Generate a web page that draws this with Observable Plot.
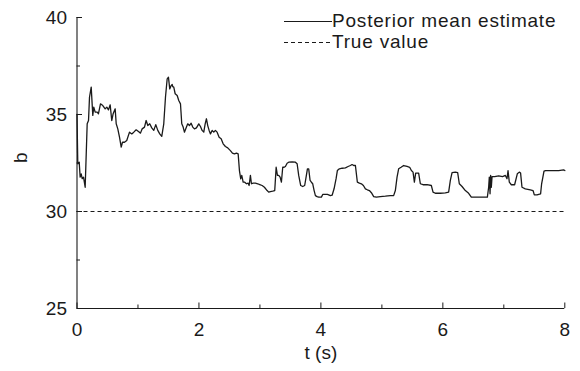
<!DOCTYPE html>
<html>
<head>
<meta charset="utf-8">
<script src="https://cdn.jsdelivr.net/npm/d3@7"></script>
<script src="https://cdn.jsdelivr.net/npm/@observablehq/plot@0.6"></script>
<style>
  html, body { margin: 0; padding: 0; background: #fff; }
  #wrap { position: relative; width: 580px; height: 371px; font-family: "Liberation Sans", Arial, sans-serif; color: #1a1a1a; }
  #legend { position: absolute; left: 284px; top: 10px; font-size: 19px; line-height: 21px; letter-spacing: 0.8px; }
  #legend .row { display: flex; align-items: center; white-space: nowrap; }
  #legend svg { display: block; margin-right: 0px; }
</style>
</head>
<body>
<div id="wrap">
  <div id="chart"></div>
  <div id="legend"></div>
</div>
<script>
// Time (s)
const t = [0.000,0.013,0.036,0.052,0.069,0.085,0.107,0.134,0.167,0.189,0.205,0.233,0.259,0.275,0.298,0.331,0.352,0.385,0.423,0.462,0.489,0.516,0.544,0.570,0.593,0.626,0.643,0.669,0.697,0.725,0.746,0.779,0.816,0.861,0.898,0.931,0.970,1.008,1.041,1.069,1.107,1.134,1.161,1.193,1.226,1.259,1.292,1.325,1.357,1.390,1.423,1.451,1.479,1.500,1.521,1.544,1.561,1.570,1.587,1.610,1.643,1.669,1.697,1.718,1.741,1.762,1.784,1.816,1.844,1.872,1.898,1.926,1.959,1.997,2.025,2.052,2.079,2.102,2.123,2.144,2.167,2.189,2.216,2.243,2.270,2.298,2.331,2.364,2.397,2.434,2.472,2.516,2.549,2.582,2.615,2.643,2.664,2.685,2.702,2.725,2.751,2.779,2.807,2.823,2.844,2.861,2.889,2.926,2.964,2.997,3.036,3.074,3.118,3.144,3.172,3.210,3.243,3.266,3.287,3.308,3.331,3.352,3.374,3.397,3.418,3.446,3.472,3.528,3.582,3.610,3.636,3.669,3.702,3.734,3.757,3.779,3.800,3.823,3.844,3.866,3.889,3.910,3.938,3.964,4.008,4.030,4.062,4.107,4.156,4.184,4.216,4.249,4.270,4.303,4.348,4.402,4.446,4.484,4.511,4.538,4.566,4.598,4.631,4.664,4.697,4.730,4.762,4.795,4.828,4.866,4.910,4.975,5.057,5.139,5.193,5.221,5.249,5.275,5.315,5.357,5.413,5.456,5.484,5.511,5.533,5.554,5.603,5.631,5.675,5.741,5.811,5.839,5.877,5.959,6.041,6.095,6.123,6.151,6.205,6.243,6.270,6.315,6.369,6.423,6.467,6.561,6.643,6.730,6.751,6.762,6.774,6.784,6.795,6.807,6.849,6.915,6.980,7.025,7.052,7.069,7.090,7.123,7.177,7.221,7.254,7.275,7.298,7.352,7.434,7.479,7.500,7.544,7.603,7.620,7.659,7.685,7.816,7.898,7.980,8.000];
// Posterior mean estimate of b
const b = [35.0,32.46,32.54,31.77,31.94,31.69,31.77,31.25,34.52,34.69,35.89,36.41,34.95,35.38,35.12,35.12,35.04,35.55,35.46,35.29,35.38,35.24,35.50,34.69,35.04,35.29,34.52,34.26,33.83,33.32,33.57,33.57,33.66,34.09,34.00,34.09,34.21,34.12,34.04,34.26,34.35,34.69,34.43,34.52,34.31,34.18,34.48,34.18,34.00,33.87,34.52,35.89,36.84,36.92,36.32,36.49,36.55,36.44,36.41,36.07,35.98,35.72,35.55,34.52,34.35,34.09,34.26,34.52,34.43,34.55,34.35,34.26,34.31,34.52,34.38,34.18,34.09,34.52,34.78,34.43,34.18,34.00,34.18,34.09,34.18,34.09,33.83,33.75,33.49,33.35,33.28,33.14,33.01,32.97,33.01,32.97,32.11,31.68,31.86,31.51,31.51,31.43,31.46,31.34,31.86,31.43,31.46,31.46,31.43,31.39,31.34,31.25,31.08,31.00,31.03,31.05,31.08,32.28,31.86,31.86,31.77,31.51,32.28,32.28,32.32,32.49,32.54,32.56,32.54,32.46,31.86,31.34,31.29,31.34,31.77,32.20,32.20,31.60,31.51,31.43,31.08,30.82,30.77,30.74,30.74,30.88,30.88,30.88,30.82,30.84,31.17,31.69,32.11,32.20,32.23,32.25,32.32,32.37,32.42,32.37,32.37,31.51,31.46,31.43,31.34,31.17,31.12,31.08,30.97,30.77,30.74,30.77,30.79,30.82,30.82,31.08,31.77,32.20,32.28,32.37,32.32,32.28,32.11,32.03,31.51,31.98,31.98,31.43,31.38,31.38,31.34,31.00,30.94,30.94,30.96,31.00,31.60,32.00,32.03,32.00,31.43,31.29,31.08,30.94,30.74,30.74,30.74,30.74,31.25,31.77,30.91,31.86,31.25,31.80,31.80,31.84,31.80,31.86,31.69,32.11,31.51,31.38,31.38,31.94,32.03,31.98,31.25,31.17,31.12,31.08,30.86,30.86,30.91,31.43,32.08,32.11,32.11,32.11,32.15,32.11];
const trueValue = [30];
const xTicks = [0, 2, 4, 6, 8];
const xMinorTicks = [1, 3, 5, 7];
const yTicks = [25, 30, 35, 40];
const yMinorTicks = [27.5, 32.5, 37.5];
const xLabel = "t (s)";
const yLabel = "b";
const seriesNames = ["Posterior mean estimate", "True value"];

const rows = t.map((d, i) => ({t: d, b: b[i]}));

const W = 580, H = 371;
const mL = 76.5, mR = 15.7, mT = 17, mB = 63;
const innerW = W - mL - mR, innerH = H - mT - mB;
const ink = "#1a1a1a";

const chart = Plot.plot({
  width: W, height: H,
  marginLeft: mL, marginRight: mR, marginTop: mT, marginBottom: mB,
  x: {domain: [0, 8], label: null},
  y: {domain: [25, 40], label: null},
  style: {fontFamily: "'Liberation Sans', Arial, sans-serif", fontSize: "19px", color: ink, background: "white", overflow: "visible"},
  marks: [
    Plot.axisX(xTicks, {tickSize: 0, tickPadding: 14, fontSize: 19, label: null, fill: ink}),
    Plot.axisY(yTicks, {tickSize: 0, tickPadding: 10, fontSize: 19, label: null, fill: ink}),
    Plot.tickX(xTicks, {x: d => d, insetTop: innerH - 5.5, stroke: ink, strokeWidth: 1}),
    Plot.tickX(xMinorTicks, {x: d => d, insetTop: innerH - 3.5, stroke: ink, strokeWidth: 1}),
    Plot.tickY(yTicks, {y: d => d, insetRight: innerW - 5.5, stroke: ink, strokeWidth: 1}),
    Plot.tickY(yMinorTicks, {y: d => d, insetRight: innerW - 3.5, stroke: ink, strokeWidth: 1}),
    Plot.ruleX([0], {stroke: ink, strokeWidth: 1.1}),
    Plot.ruleY([25], {stroke: ink, strokeWidth: 1.1}),
    Plot.ruleY(trueValue, {stroke: ink, strokeWidth: 1, strokeDasharray: "4,3"}),
    Plot.line(rows, {x: "t", y: "b", stroke: ink, strokeWidth: 1.3, strokeLinejoin: "round"}),
    Plot.text([xLabel], {frameAnchor: "bottom", dy: 50, fontSize: 19, fill: ink, style: "letter-spacing:0.8px"}),
    Plot.text([yLabel], {frameAnchor: "left", dx: -56, rotate: -90, fontSize: 19, fill: ink})
  ]
});
document.getElementById("chart").appendChild(chart);

const legend = document.getElementById("legend");
seriesNames.forEach((name, i) => {
  const row = document.createElement("div");
  row.className = "row";
  const dash = i === 0 ? "" : 'stroke-dasharray="4,3"';
  row.innerHTML = `<svg width="48" height="21"><line x1="0" x2="48" y1="11.5" y2="11.5" stroke="${ink}" stroke-width="1.1" ${dash}/></svg><span>${name}</span>`;
  legend.appendChild(row);
});
</script>
</body>
</html>
